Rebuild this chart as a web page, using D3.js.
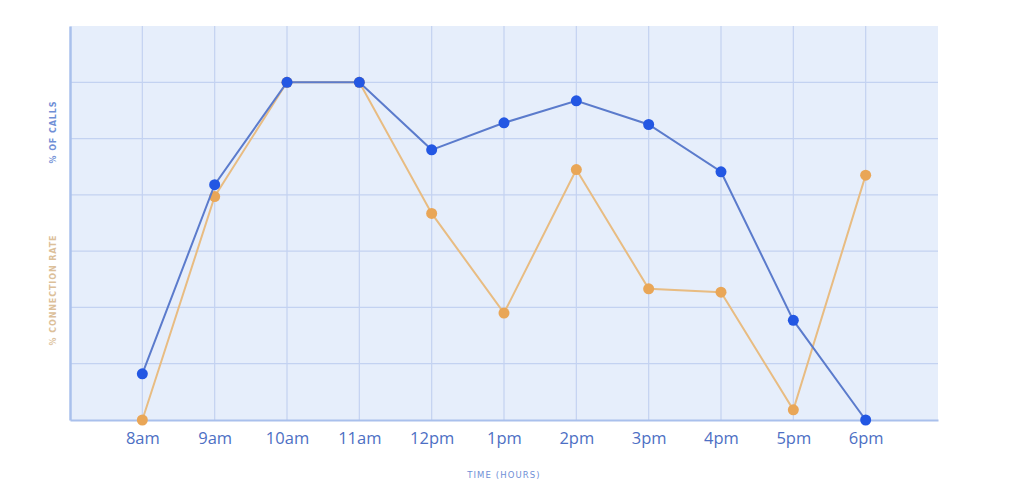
<!DOCTYPE html>
<html>
<head>
<meta charset="utf-8">
<script src="https://cdn.jsdelivr.net/npm/d3@7"></script>
<style>
  body { margin: 0; background: #ffffff; }
  svg { display: block; }
</style>
</head>
<body>
<div id="chart"></div>
<script>
// data
var hours = ["8am", "9am", "10am", "11am", "12pm", "1pm", "2pm", "3pm", "4pm", "5pm", "6pm"];
var callsPct = [0.82, 4.18, 6.0, 6.0, 4.8, 5.28, 5.67, 5.25, 4.41, 1.77, 0];
var connectionRate = [0, 3.97, 6.0, 6.0, 3.67, 1.9, 4.45, 2.33, 2.27, 0.18, 4.35];
var yTicks = [0, 1, 2, 3, 4, 5, 6, 7];

var width = 1024, height = 499;
var margin = {top: 26, right: 86, bottom: 79, left: 70};
var w = width - margin.left - margin.right,
    h = height - margin.top - margin.bottom;

var svg = d3.select("#chart").append("svg")
    .attr("width", width)
    .attr("height", height);

var g = svg.append("g")
    .attr("transform", "translate(" + margin.left + "," + margin.top + ")");

// x: one empty step on each side of the hours
var x = d3.scalePoint()
    .domain([""].concat(hours).concat([" "]))
    .range([0, w]);

var y = d3.scaleLinear()
    .domain([0, 7])
    .range([h, 0]);

g.append("rect")
    .attr("width", w)
    .attr("height", h)
    .attr("fill", "#e6eefb");

// grid
g.selectAll(".vgrid")
    .data(hours)
    .enter().append("line")
    .attr("class", "vgrid")
    .attr("x1", function(d){ return x(d); })
    .attr("x2", function(d){ return x(d); })
    .attr("y1", 0)
    .attr("y2", h)
    .attr("stroke", "#c3d2f1")
    .attr("stroke-width", 1.2);

g.selectAll(".hgrid")
    .data(yTicks.slice(1, -1))
    .enter().append("line")
    .attr("class", "hgrid")
    .attr("x1", 0)
    .attr("x2", w)
    .attr("y1", function(d){ return y(d); })
    .attr("y2", function(d){ return y(d); })
    .attr("stroke", "#c3d2f1")
    .attr("stroke-width", 1.2);

// axes
var xAxis = g.append("g")
    .attr("transform", "translate(0," + h + ")")
    .call(d3.axisBottom(x).tickValues(hours).tickSize(0).tickPadding(12));
xAxis.select(".domain").attr("stroke", "#a9c0ec").attr("stroke-width", 2);
xAxis.selectAll("text")
    .attr("fill", "#4d6fc4")
    .style("font-family", "'Open Sans', sans-serif")
    .style("font-size", "16.5px");

var yAxis = g.append("g")
    .call(d3.axisLeft(y).tickValues([]).tickSize(0));
yAxis.select(".domain").attr("stroke", "#a9c0ec").attr("stroke-width", 2.5);

// axis titles
svg.append("text")
    .attr("transform", "translate(56,132) rotate(-90)")
    .attr("text-anchor", "middle")
    .attr("fill", "#6f8fd6")
    .style("font-family", "'DejaVu Sans', sans-serif")
    .style("font-size", "8px")
    .style("font-weight", "bold")
    .style("letter-spacing", "0.9px")
    .text("% OF CALLS");

svg.append("text")
    .attr("transform", "translate(56,290) rotate(-90)")
    .attr("text-anchor", "middle")
    .attr("fill", "#dcc09a")
    .style("font-family", "'DejaVu Sans', sans-serif")
    .style("font-size", "8px")
    .style("font-weight", "bold")
    .style("letter-spacing", "0.9px")
    .text("% CONNECTION RATE");

svg.append("text")
    .attr("x", margin.left + x("1pm"))
    .attr("y", 478)
    .attr("text-anchor", "middle")
    .attr("fill", "#6f8fd6")
    .style("font-family", "'DejaVu Sans', sans-serif")
    .style("font-size", "8.5px")
    .style("letter-spacing", "1.1px")
    .text("TIME (HOURS)");

// series
var series = [
    {values: connectionRate, line: "#e8bc82", dot: "#e9a657"},
    {values: callsPct, line: "#5b7bcc", dot: "#2357e3"}
];

var line = d3.line()
    .x(function(d, i){ return x(hours[i]); })
    .y(function(d){ return y(d); });

series.forEach(function(s){
    g.append("path")
        .datum(s.values)
        .attr("fill", "none")
        .attr("stroke", s.line)
        .attr("stroke-width", 2)
        .attr("d", line);
    g.selectAll(null)
        .data(s.values)
        .enter().append("circle")
        .attr("cx", function(d, i){ return x(hours[i]); })
        .attr("cy", function(d){ return y(d); })
        .attr("r", 5.5)
        .attr("fill", s.dot);
});
</script>
</body>
</html>
